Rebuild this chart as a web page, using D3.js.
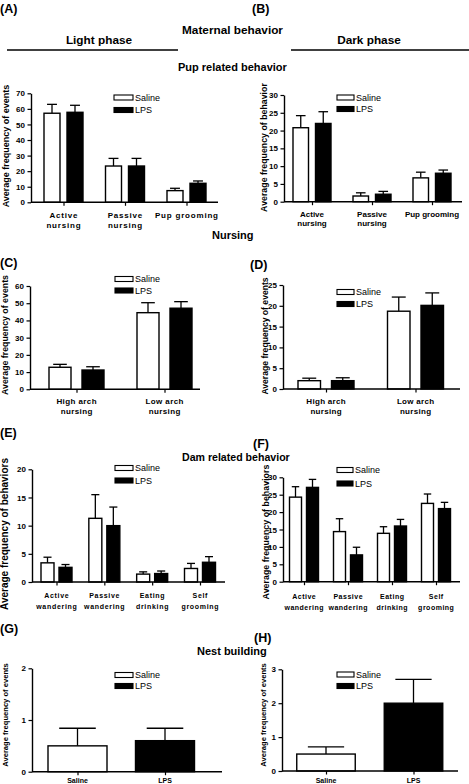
<!DOCTYPE html>
<html>
<head>
<meta charset="utf-8">
<script src="https://cdn.jsdelivr.net/npm/d3@7/dist/d3.min.js"></script>
<style>
  html, body { margin: 0; padding: 0; background: #fff; }
  svg { display: block; font-family: "Liberation Sans", Arial, Helvetica, sans-serif; }
</style>
</head>
<body>
<svg id="chart" width="469" height="784"></svg>
<script>
// ---------------- DATA ----------------
const seriesNames = ["Saline", "LPS"];

// (A) Pup related behavior, light phase
const panelA_categories = [["Active", "nursing"], ["Passive", "nursing"], ["Pup grooming"]];
const panelA_saline = [57.2, 23.3, 7.5];
const panelA_salineSem = [5.7, 4.9, 1.5];
const panelA_lps = [57.8, 23.3, 12.2];
const panelA_lpsSem = [4.5, 4.9, 1.5];
const panelA_yTicks = [0, 10, 20, 30, 40, 50, 60, 70];

// (B) Pup related behavior, dark phase
const panelB_categories = [["Active", "nursing"], ["Passive", "nursing"], ["Pup grooming"]];
const panelB_saline = [20.8, 1.6, 6.7];
const panelB_salineSem = [3.4, 0.9, 1.6];
const panelB_lps = [22.0, 2.1, 8.0];
const panelB_lpsSem = [3.3, 0.8, 0.9];
const panelB_yTicks = [0, 5, 10, 15, 20, 25, 30];

// (C) Nursing, light phase
const panelC_categories = [["High arch", "nursing"], ["Low arch", "nursing"]];
const panelC_saline = [12.8, 44.5];
const panelC_salineSem = [1.7, 5.8];
const panelC_lps = [11.2, 47.1];
const panelC_lpsSem = [1.9, 3.8];
const panelC_yTicks = [0, 10, 20, 30, 40, 50, 60];

// (D) Nursing, dark phase
const panelD_categories = [["High arch", "nursing"], ["Low arch", "nursing"]];
const panelD_saline = [2.0, 18.7];
const panelD_salineSem = [0.6, 3.4];
const panelD_lps = [2.0, 20.1];
const panelD_lpsSem = [0.7, 3.0];
const panelD_yTicks = [0, 5, 10, 15, 20, 25];

// (E) Dam related behavior, light phase
const panelE_categories = [["Active", "wandering"], ["Passive", "wandering"], ["Eating", "drinking"], ["Self", "grooming"]];
const panelE_saline = [3.4, 11.3, 1.4, 2.4];
const panelE_salineSem = [1.0, 4.2, 0.4, 0.9];
const panelE_lps = [2.6, 10.0, 1.5, 3.5];
const panelE_lpsSem = [0.5, 3.3, 0.45, 1.0];
const panelE_yTicks = [0, 5, 10, 15, 20];

// (F) Dam related behavior, dark phase
const panelF_categories = [["Active", "wandering"], ["Passive", "wandering"], ["Eating", "drinking"], ["Self", "grooming"]];
const panelF_saline = [24.3, 14.4, 13.9, 22.5];
const panelF_salineSem = [3.0, 3.7, 1.9, 2.7];
const panelF_lps = [27.1, 7.7, 16.0, 21.0];
const panelF_lpsSem = [2.3, 2.2, 1.9, 1.8];
const panelF_yTicks = [0, 5, 10, 15, 20, 25, 30];

// (G) Nest building, light phase
const panelG_categories = [["Saline"], ["LPS"]];
const panelG_values = [0.5, 0.6];
const panelG_sem = [0.34, 0.24];
const panelG_yTicks = [0, 1, 2];

// (H) Nest building, dark phase
const panelH_categories = [["Saline"], ["LPS"]];
const panelH_values = [0.5, 2.0];
const panelH_sem = [0.21, 0.7];
const panelH_yTicks = [0, 1, 2, 3];

// ---------------- LAYOUT ----------------
const svg = d3.select("#chart");
svg.append("rect").attr("width", 469).attr("height", 784).attr("fill", "#fff");

const fills = ["#fff", "#000"];

function grouped(cats, s, sSem, l, lSem) {
  return { cats, series: [{ v: s, e: sSem }, { v: l, e: lSem }] };
}
function single(cats, v, e) {
  return { cats, single: { v, e } };
}

const panels = [
  { letter: "(A)", lx: 0, ly: 12.5, data: grouped(panelA_categories, panelA_saline, panelA_salineSem, panelA_lps, panelA_lpsSem),
    ticks: panelA_yTicks, xAxis: [31, 218], centers: [63.5, 186.5], yr: [202.3, 93.3], bw: 16, gap: 7,
    legend: { x: 114, y: 97.5, dy: 12.5, w: 19 }, lf: 8, ls: 0.8, labelY: [218, 227.5],
    ylab: { x: 6, y: 146, size: 9, text: "Average frequency of events" } },
  { letter: "(B)", lx: 252, ly: 12.5, data: grouped(panelB_categories, panelB_saline, panelB_salineSem, panelB_lps, panelB_lpsSem),
    ticks: panelB_yTicks, xAxis: [284, 462], centers: [312, 432], yr: [201.7, 95], bw: 15.5, gap: 7,
    legend: { x: 337, y: 97.5, dy: 11.5, w: 17 }, lf: 8, ls: 0, labelY: [216.5, 226],
    ylab: { x: 264, y: 147.5, size: 8.8, text: "Average frequency of behavior" } },
  { letter: "(C)", lx: 0, ly: 267, data: grouped(panelC_categories, panelC_saline, panelC_salineSem, panelC_lps, panelC_lpsSem),
    ticks: panelC_yTicks, xAxis: [30, 200], centers: [76.5, 164.5], yr: [389.3, 286], bw: 22, gap: 11,
    legend: { x: 115, y: 279, dy: 11.5, w: 18 }, lf: 8, ls: 0.4, labelY: [404.3, 414.3],
    ylab: { x: 5, y: 335, size: 8.8, text: "Average frequency of events" } },
  { letter: "(D)", lx: 250, ly: 269, data: grouped(panelD_categories, panelD_saline, panelD_salineSem, panelD_lps, panelD_lpsSem),
    ticks: panelD_yTicks, xAxis: [283, 460], centers: [326, 415.5], yr: [389, 285], bw: 22.5, gap: 11,
    legend: { x: 337, y: 292, dy: 12, w: 17 }, lf: 8, ls: 0.3, labelY: [404, 414],
    ylab: { x: 264.5, y: 336, size: 8.6, text: "Average frequency of events" } },
  { letter: "(E)", lx: 0, ly: 437, data: grouped(panelE_categories, panelE_saline, panelE_salineSem, panelE_lps, panelE_lpsSem),
    ticks: panelE_yTicks, xAxis: [32, 225], centers: [56.5, 200], yr: [582, 469.3], bw: 13, gap: 5,
    legend: { x: 115, y: 468, dy: 12.5, w: 18 }, lf: 7, ls: 0.7, labelY: [598.3, 609],
    ylab: { x: 4.5, y: 534, size: 10, text: "Average frequency of behaviors" } },
  { letter: "(F)", lx: 253, ly: 448, data: grouped(panelF_categories, panelF_saline, panelF_salineSem, panelF_lps, panelF_lpsSem),
    ticks: panelF_yTicks, xAxis: [283, 460], centers: [304, 436], yr: [581.7, 477.3], bw: 12, gap: 5,
    legend: { x: 337, y: 470, dy: 13.5, w: 16 }, lf: 7, ls: 0.5, labelY: [599, 610],
    ylab: { x: 266, y: 532, size: 8.9, text: "Average frequency of behaviors" } },
  { letter: "(G)", lx: 0, ly: 633, data: single(panelG_categories, panelG_values, panelG_sem),
    ticks: panelG_yTicks, xAxis: [32, 222], centers: [77.5, 165], yr: [771.7, 668.3], bw: 59, gap: 0,
    legend: { x: 115, y: 675, dy: 11, w: 18 }, lf: 7, ls: 0, labelY: [783],
    ylab: { x: 5, y: 715, size: 7.6, text: "Average frequency of events" } },
  { letter: "(H)", lx: 254, ly: 642, data: single(panelH_categories, panelH_values, panelH_sem),
    ticks: panelH_yTicks, xAxis: [282, 458], centers: [326, 413.5], yr: [771, 669.3], bw: 58.5, gap: 0,
    legend: { x: 337, y: 674.5, dy: 11.5, w: 17 }, lf: 7, ls: 0, labelY: [783],
    ylab: { x: 263.5, y: 715, size: 7.6, text: "Average frequency of events" } }
];

function drawPanel(p) {
  const g = svg.append("g");
  const keys = p.data.cats.map(c => c.join(" "));
  const x = d3.scalePoint().domain(keys).range(p.centers);
  const y = d3.scaleLinear().domain([0, d3.max(p.ticks)]).range(p.yr);

  // bars as list of {cx, v, e, fill}
  let bars = [];
  if (p.data.series) {
    p.data.series.forEach((s, si) => {
      keys.forEach((k, i) => {
        const c = x(k);
        const left = si === 0 ? c - p.gap / 2 - p.bw : c + p.gap / 2;
        bars.push({ left, v: s.v[i], e: s.e[i], fill: fills[si] });
      });
    });
  } else {
    keys.forEach((k, i) => {
      bars.push({ left: x(k) - p.bw / 2, v: p.data.single.v[i], e: p.data.single.e[i], fill: fills[i] });
    });
  }

  // error bars (drawn first, upward from bar top)
  const eg = g.append("g").attr("stroke", "#000").attr("stroke-width", 1.3);
  bars.forEach(b => {
    const cx = b.left + p.bw / 2;
    const cw = p.bw * 0.62;
    eg.append("line").attr("x1", cx).attr("x2", cx).attr("y1", y(b.v)).attr("y2", y(b.v + b.e));
    eg.append("line").attr("x1", cx - cw / 2).attr("x2", cx + cw / 2).attr("y1", y(b.v + b.e)).attr("y2", y(b.v + b.e));
  });

  g.selectAll("rect.bar").data(bars).enter().append("rect")
    .attr("class", "bar")
    .attr("x", d => d.left)
    .attr("width", p.bw)
    .attr("y", d => y(d.v))
    .attr("height", d => y(0) - y(d.v))
    .attr("fill", d => d.fill)
    .attr("stroke", "#000")
    .attr("stroke-width", 1.4);

  // y axis
  const x0 = p.xAxis[0];
  const ya = g.append("g").attr("transform", `translate(${x0},0)`)
    .call(d3.axisLeft(y).tickValues(p.ticks).tickSize(3.5).tickSizeOuter(0).tickPadding(2.5).tickFormat(d3.format("d")));
  ya.select(".domain").attr("stroke-width", 1.4);
  ya.selectAll(".tick line").attr("stroke-width", 1.2);
  ya.selectAll(".tick text").attr("font-size", 8).attr("font-weight", "bold").attr("font-family", "Liberation Sans, Arial, sans-serif").attr("fill", "#000");

  // x axis line across the full width
  const xl = d3.scaleLinear().domain([0, 1]).range(p.xAxis);
  g.append("line").attr("x1", xl(0)).attr("x2", xl(1)).attr("y1", y(0)).attr("y2", y(0))
    .attr("stroke", "#000").attr("stroke-width", 1.4);
  const xa = g.append("g").attr("transform", `translate(0,${y(0)})`)
    .call(d3.axisBottom(x).tickSize(3.5).tickSizeOuter(0).tickFormat(""));
  xa.select(".domain").remove();
  xa.selectAll(".tick line").attr("stroke-width", 1.2);

  // category labels
  p.data.cats.forEach((lines, i) => {
    const t = g.append("text")
      .attr("text-anchor", "middle")
      .attr("font-size", p.lf)
      .attr("font-weight", "bold")
      .attr("letter-spacing", p.ls)
      .attr("fill", "#000");
    lines.forEach((ln, j) => {
      t.append("tspan").attr("x", x(keys[i]) + p.ls / 2).attr("y", p.labelY[j]).text(ln);
    });
  });

  // y axis label
  g.append("text")
    .attr("transform", `translate(${p.ylab.x},${p.ylab.y}) rotate(-90)`)
    .attr("text-anchor", "middle")
    .attr("dominant-baseline", "central")
    .attr("font-size", p.ylab.size)
    .attr("font-weight", "bold")
    .text(p.ylab.text);

  // legend
  seriesNames.forEach((name, i) => {
    const cy = p.legend.y + i * p.legend.dy;
    g.append("rect").attr("x", p.legend.x).attr("y", cy - 2.5).attr("width", p.legend.w).attr("height", 5)
      .attr("fill", fills[i]).attr("stroke", "#000").attr("stroke-width", 1.1);
    g.append("text").attr("x", p.legend.x + p.legend.w + 2).attr("y", cy)
      .attr("dominant-baseline", "central").attr("font-size", 9).text(name);
  });

  // panel letter
  svg.append("text").attr("x", p.lx).attr("y", p.ly).attr("font-size", 12.5).attr("font-weight", "bold").text(p.letter);
}

panels.forEach(drawPanel);

// ---------------- TITLES ----------------
const titles = [
  { t: "Maternal behavior", x: 182, y: 34, size: 11.8, anchor: "start" },
  { t: "Light phase", x: 99, y: 43.5, size: 11.8, anchor: "middle" },
  { t: "Dark phase", x: 369, y: 43.5, size: 11.8, anchor: "middle" },
  { t: "Pup related behavior", x: 178, y: 71, size: 11, anchor: "start" },
  { t: "Nursing", x: 212, y: 238.5, size: 11, anchor: "start" },
  { t: "Dam related behavior", x: 182, y: 460.5, size: 10.6, anchor: "start" },
  { t: "Nest building", x: 197, y: 654.5, size: 11, anchor: "start" }
];
titles.forEach(d => {
  svg.append("text").attr("x", d.x).attr("y", d.y).attr("font-size", d.size)
    .attr("font-weight", "bold").attr("text-anchor", d.anchor).text(d.t);
});
svg.append("line").attr("x1", 7).attr("x2", 178).attr("y1", 50).attr("y2", 50).attr("stroke", "#000").attr("stroke-width", 1.5);
svg.append("line").attr("x1", 291).attr("x2", 469).attr("y1", 50).attr("y2", 50).attr("stroke", "#000").attr("stroke-width", 1.5);
</script>
</body>
</html>
